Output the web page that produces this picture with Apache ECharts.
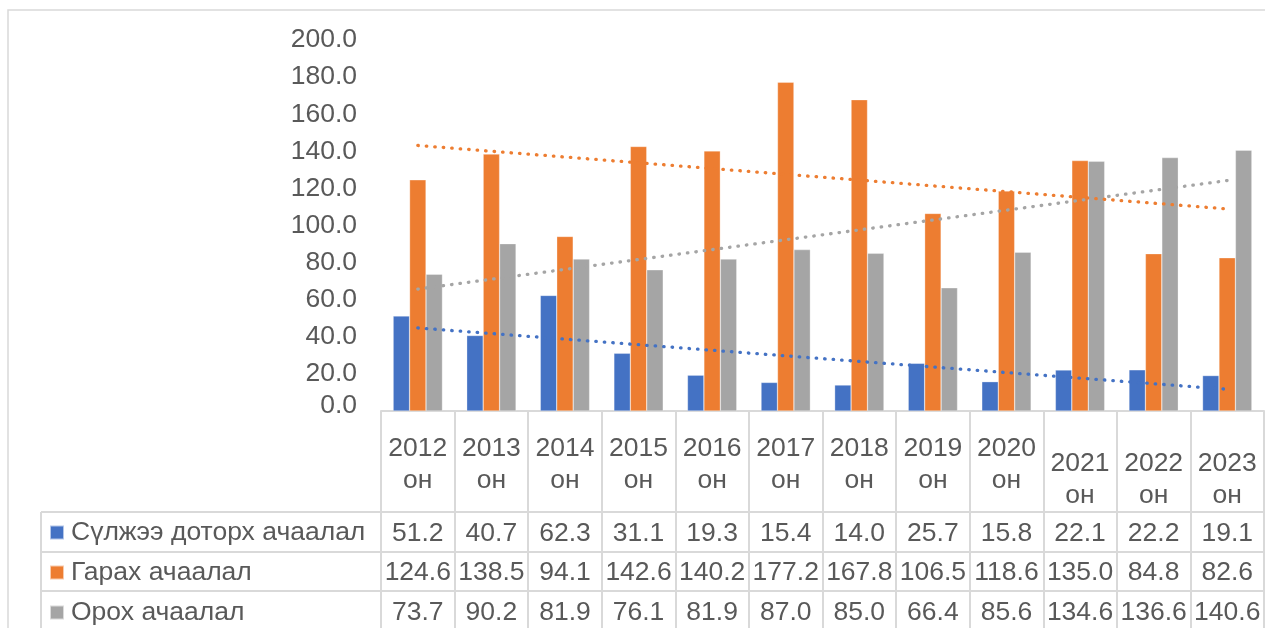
<!DOCTYPE html>
<html>
<head>
<meta charset="utf-8">
<script src="https://cdn.jsdelivr.net/npm/echarts@6/dist/echarts.min.js"></script>
<style>
  html, body { margin: 0; padding: 0; background: #fff; }
  #main { width: 1265px; height: 628px; }
</style>
</head>
<body>
<div id="main"></div>
<script>
// ангилал (он)
var years = ['2012', '2013', '2014', '2015', '2016', '2017', '2018', '2019', '2020', '2021', '2022', '2023'];
var yearSuffix = 'он';

// цувралууд
var seriesNames = ['Сүлжээ доторх ачаалал', 'Гарах ачаалал', 'Орох ачаалал'];
var internalLoad = [51.2, 40.7, 62.3, 31.1, 19.3, 15.4, 14.0, 25.7, 15.8, 22.1, 22.2, 19.1];
var outgoingLoad = [124.6, 138.5, 94.1, 142.6, 140.2, 177.2, 167.8, 106.5, 118.6, 135.0, 84.8, 82.6];
var incomingLoad = [73.7, 90.2, 81.9, 76.1, 81.9, 87.0, 85.0, 66.4, 85.6, 134.6, 136.6, 140.6];

var colors = ['#4472C4', '#ED7D31', '#A5A5A5'];
var textColor = '#595959';
var lineColor = '#d9d9d9';
var fs = 26.5;

// шугаман чиг хандлага (хамгийн бага квадрат)
function trend(vals) {
	var n = vals.length, sx = 0, sy = 0, sxy = 0, sxx = 0;
	for (var i = 0; i < n; i++) {
		sx += i; sy += vals[i]; sxy += i * vals[i]; sxx += i * i;
	}
	var m = (n * sxy - sx * sy) / (n * sxx - sx * sx);
	var b = (sy - m * sx) / n;
	return vals.map(function (v, i) { return b + m * i; });
}

var allData = [internalLoad, outgoingLoad, incomingLoad];

var myChart = echarts.init(document.getElementById('main'));

var series = [];
for (var s = 0; s < 3; s++) {
	series.push({
		name: seriesNames[s],
		type: 'bar',
		data: allData[s],
		barGap: '0%',
		barCategoryGap: '33%',
		itemStyle: { color: colors[s], borderColor: 'rgba(255,255,255,0.6)', borderWidth: 0.5 },
		silent: true
	});
}
for (var s = 0; s < 3; s++) {
	series.push({
		name: seriesNames[s] + ' trend',
		type: 'line',
		data: trend(allData[s]),
		symbol: 'none',
		z: 5,
		silent: true,
		lineStyle: { color: colors[s], width: 3.3, type: [0.5, 8], cap: 'round' }
	});
}

var option = {
	animation: false,
	textStyle: { fontFamily: '"Liberation Sans", Arial, sans-serif' },
	grid: { left: 381, right: 1, top: 40, bottom: 217, containLabel: false },
	legend: {
		data: seriesNames,
		orient: 'vertical',
		left: 49,
		top: 519,
		padding: 0,
		icon: 'rect',
		itemWidth: 14,
		itemHeight: 14,
		itemGap: 13,
		selectedMode: false,
		textStyle: { fontSize: fs, color: textColor, lineHeight: 26.5, padding: [0, 0, 0, 2] }
	},
	xAxis: {
		type: 'category',
		data: years,
		axisLine: { lineStyle: { color: lineColor, width: 2 } },
		axisTick: { show: true, length: 220, lineStyle: { color: lineColor, width: 2 } },
		axisLabel: {
			interval: 0,
			margin: 22,
			color: textColor,
			formatter: function (value, idx) {
				var head = idx >= 9 ? '{t| }\n' : '';
				var gap = idx >= 9 ? '{s2| }' : '{s| }';
				return head + '{h|' + value + '}\n{h|' + yearSuffix + '}\n' + gap + '\n' +
					'{v|' + internalLoad[idx].toFixed(1) + '}\n' +
					'{v|' + outgoingLoad[idx].toFixed(1) + '}\n' +
					'{v|' + incomingLoad[idx].toFixed(1) + '}';
			},
			rich: {
				h: { fontSize: fs, lineHeight: 32, color: textColor },
				v: { fontSize: fs, lineHeight: 39.5, color: textColor },
				t: { fontSize: 10, lineHeight: 15 },
				s: { fontSize: 10, lineHeight: 16.5 },
				s2: { fontSize: 1, lineHeight: 1.5 }
			}
		}
	},
	yAxis: {
		type: 'value',
		min: 0,
		max: 200,
		interval: 20,
		axisLine: { show: false },
		axisTick: { show: false },
		splitLine: { show: false },
		axisLabel: {
			margin: 24,
			fontSize: fs,
			color: textColor,
			formatter: function (v) {
				return v === 0 ? '{z|' + v.toFixed(1) + '}' : v.toFixed(1);
			},
			rich: {
				z: { fontSize: fs, color: textColor, padding: [0, 0, 10, 0] }
			}
		}
	},
	graphic: [
		{ type: 'rect', shape: { x: 8, y: 10, width: 1400, height: 800 }, style: { fill: 'none', stroke: lineColor, lineWidth: 1.5 }, silent: true },
		{ type: 'line', shape: { x1: 41, y1: 512, x2: 1265, y2: 512 }, style: { stroke: lineColor, lineWidth: 2 }, silent: true },
		{ type: 'line', shape: { x1: 41, y1: 552, x2: 1265, y2: 552 }, style: { stroke: lineColor, lineWidth: 2 }, silent: true },
		{ type: 'line', shape: { x1: 41, y1: 591, x2: 1265, y2: 591 }, style: { stroke: lineColor, lineWidth: 2 }, silent: true },
		{ type: 'line', shape: { x1: 41, y1: 512, x2: 41, y2: 640 }, style: { stroke: lineColor, lineWidth: 2 }, silent: true }
	],
	series: series
};

myChart.setOption(option);
</script>
</body>
</html>
